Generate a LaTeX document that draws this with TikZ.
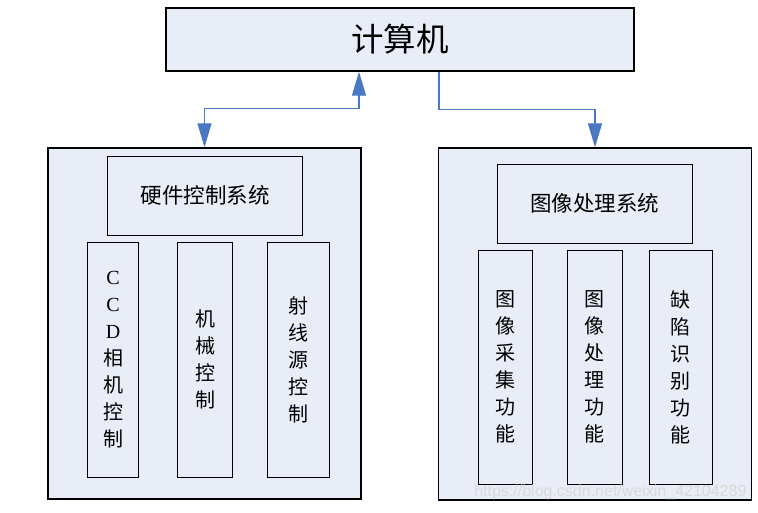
\documentclass[tikz,border=0pt]{standalone}
\usepackage{fontspec}
\setmainfont{Liberation Serif}
\newfontfamily\cjk{Noto Sans CJK SC}
\newfontfamily\wmfont{Liberation Sans}
\usetikzlibrary{arrows.meta}
\definecolor{boxfill}{HTML}{E8EDF7}
\definecolor{connblue}{HTML}{4A78C2}
\tikzset{
  outerbox/.style={draw=black, fill=boxfill, line width=1.4pt, inner sep=0pt, rectangle},
  innerbox/.style={draw=black, fill=boxfill, line width=1pt, inner sep=0pt, rectangle},
  coltext/.style={font=\cjk\fontsize{20}{27}\selectfont, align=center},
  titletext/.style={font=\cjk\fontsize{21.5}{24}\selectfont},
  conn/.style={draw=connblue, line width=1.3pt}
}
\begin{document}
\begin{tikzpicture}[x=1pt,y=-1pt]
\useasboundingbox (0,0) rectangle (758,512);
% top
\node[outerbox, minimum width=468pt, minimum height=63pt, font=\cjk\fontsize{32.5}{36}\selectfont] (top) at (400,39.5) {计算机};
% outer boxes
\node[outerbox, minimum width=313pt, minimum height=351pt] (lo) at (204.5,323.5) {};
\node[outerbox, minimum width=313pt, minimum height=352pt] (ro) at (595,324) {};
% left contents
\node[innerbox, minimum width=195pt, minimum height=79pt, titletext] (lt) at (205,195.5) {硬件控制系统};
\node[innerbox, minimum width=51pt, minimum height=235pt] (l1) at (113,359.5) {};
\node[innerbox, minimum width=55pt, minimum height=235pt] (l2) at (205,359.5) {};
\node[innerbox, minimum width=62pt, minimum height=235pt] (l3) at (298,359.5) {};
\node[coltext] (l1t) at (l1.center) {{\rmfamily C}\\{\rmfamily C}\\{\rmfamily D}\\相\\机\\控\\制};
\node[coltext] (l2t) at (l2.center) {机\\械\\控\\制};
\node[coltext] (l3t) at (l3.center) {射\\线\\源\\控\\制};
% right contents
\node[innerbox, minimum width=195pt, minimum height=79pt, titletext] (rt) at (594.5,203.5) {图像处理系统};
\node[innerbox, minimum width=54pt, minimum height=234pt] (r1) at (505,367) {};
\node[innerbox, minimum width=55pt, minimum height=234pt] (r2) at (594.5,367) {};
\node[innerbox, minimum width=63pt, minimum height=234pt] (r3) at (680.5,367) {};
\node[coltext] (r1t) at (r1.center) {图\\像\\采\\集\\功\\能};
\node[coltext] (r2t) at (r2.center) {图\\像\\处\\理\\功\\能};
\node[coltext] (r3t) at (r3.center) {缺\\陷\\识\\别\\功\\能};
% connectors
\draw[conn, {Triangle[width=14pt,length=24pt]}-{Triangle[width=14pt,length=24pt]}] (lo.north) -- ++(0,-39) -| ([xshift=-41pt]top.south);
\draw[conn, -{Triangle[width=14pt,length=24pt]}] ([xshift=39pt]top.south) -- ++(0,38) -| (ro.north);
% watermark
\node[font=\wmfont\fontsize{16}{18}\selectfont, text=black!15, anchor=east] (wm) at (750,492) {https://blog.csdn.net/weixin\_42104289};
\end{tikzpicture}
\end{document}
